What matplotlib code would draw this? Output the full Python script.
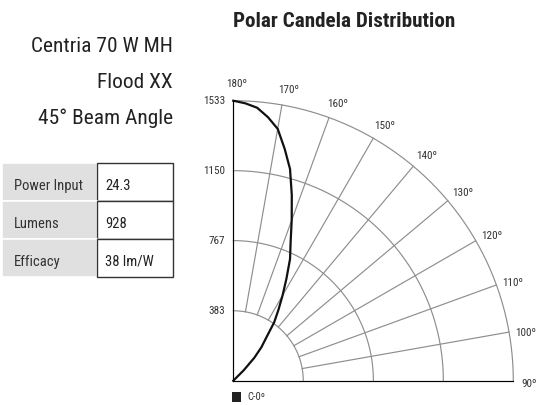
import numpy as np
import matplotlib.pyplot as plt
from matplotlib.patches import Rectangle

plt.rcParams["font.family"] = ["Roboto Condensed", "DejaVu Sans"]

# vertical angles (deg) and candela values, C-0 plane
angles = [90, 92.5, 95, 97.5, 100, 102.5, 105, 107.5, 110, 112.5, 115, 117.5,
          120, 122.5, 125, 127.5, 130, 132.5, 135, 137.5, 140, 142.5, 145,
          147.5, 150, 152.5, 155, 157.5, 160, 162.5, 165, 167.5, 170, 172.5,
          175, 177.5, 180]
candela = [0, 0, 0, 0, 0, 0, 0, 0, 0, 0, 0, 0,
           0, 0, 0, 0, 0, 0, 80, 170, 240, 295, 390,
           460, 540, 630, 735, 820, 935, 1065, 1200, 1300, 1400, 1455,
           1500, 1520, 1533]

ring_values = [383, 767, 1150, 1533]
spoke_angles = [90, 100, 110, 120, 130, 140, 150, 160, 170, 180]

info_lines = ["Centria 70 W MH", "Flood XX", "45° Beam Angle"]
table_labels = ["Power Input", "Lumens", "Efficacy"]
table_values = ["24.3", "928", "38 lm/W"]

W, H = 536, 405
fig = plt.figure(figsize=(W / 100, H / 100), dpi=100)

# polar chart, origin at (233, 381) px, radius 280 px
ox, oy, R = 233.3, 380.7, 280
ax = fig.add_axes([ox / W, (H - oy) / H, R / W, R / H], projection="polar")
ax.set_theta_zero_location("S")
ax.set_theta_direction(1)
ax.set_thetamin(90)
ax.set_thetamax(180)
ax.set_ylim(0, ring_values[-1])
ax.grid(False)
ax.set_xticks([])
ax.set_yticks([])
for s in ax.spines.values():
    s.set_visible(False)
ax.patch.set_alpha(0)

grid_col = "#8e8e8e"
arc = np.radians(np.linspace(90, 180, 200))
for rv in ring_values:
    ax.plot(arc, np.full_like(arc, rv), color=grid_col, lw=0.85, clip_on=False)
for a in spoke_angles:
    r0 = 0 if a in (90, 180) else ring_values[0]
    ax.plot([np.radians(a)] * 2, [r0, ring_values[-1]], color=grid_col, lw=0.85,
            clip_on=False)

ax.plot(np.radians(angles), candela, color="#111111", lw=1.6, clip_on=False)

for a in spoke_angles:
    ax.text(np.radians(a - 0.7), ring_values[-1] * 1.058, f"{a}º",
            ha="center", va="center", fontsize=8, color="#333333")
for rv in ring_values:
    ax.annotate(str(rv), (np.pi, rv), xytext=(-6, 0), textcoords="offset points",
                ha="right", va="center", fontsize=8, color="#333333")

fig.text(233 / W, 1 - 26.7 / H, "Polar Candela Distribution", ha="left",
         va="baseline", fontsize=15.2, fontweight="bold", color="#222222")

for i, line in enumerate(info_lines):
    fig.text(173 / W, 1 - (51.7 + 36.3 * i) / H, line, ha="right",
             va="baseline", fontsize=15.4, color="#222222")

# table
tab = fig.add_axes([0, 0, 1, 1])
tab.set_xlim(0, W)
tab.set_ylim(H, 0)
tab.axis("off")
tab.patch.set_alpha(0)
row_h = 38
top = 163.3
for i, (lab, val) in enumerate(zip(table_labels, table_values)):
    y = top + i * row_h
    tab.add_patch(Rectangle((2, y), 95, row_h, facecolor="#e0e0e0",
                            edgecolor="white", lw=1.2))
    tab.add_patch(Rectangle((97, y), 76, row_h, facecolor="white",
                            edgecolor="#333333", lw=1.0))
    tab.text(14, y + 26.7, lab, ha="left", va="baseline", fontsize=10.5,
             color="#333333")
    tab.text(105, y + 26.7, val, ha="left", va="baseline", fontsize=10.5,
             color="#222222")

# legend
tab.add_patch(Rectangle((232.3, 392.3), 9, 9.4, facecolor="#222222",
                        edgecolor="none"))
tab.text(247.3, 397, "C-0º", ha="left", va="center", fontsize=7.5,
         color="#333333")

fig.savefig("out.png", dpi=100)
